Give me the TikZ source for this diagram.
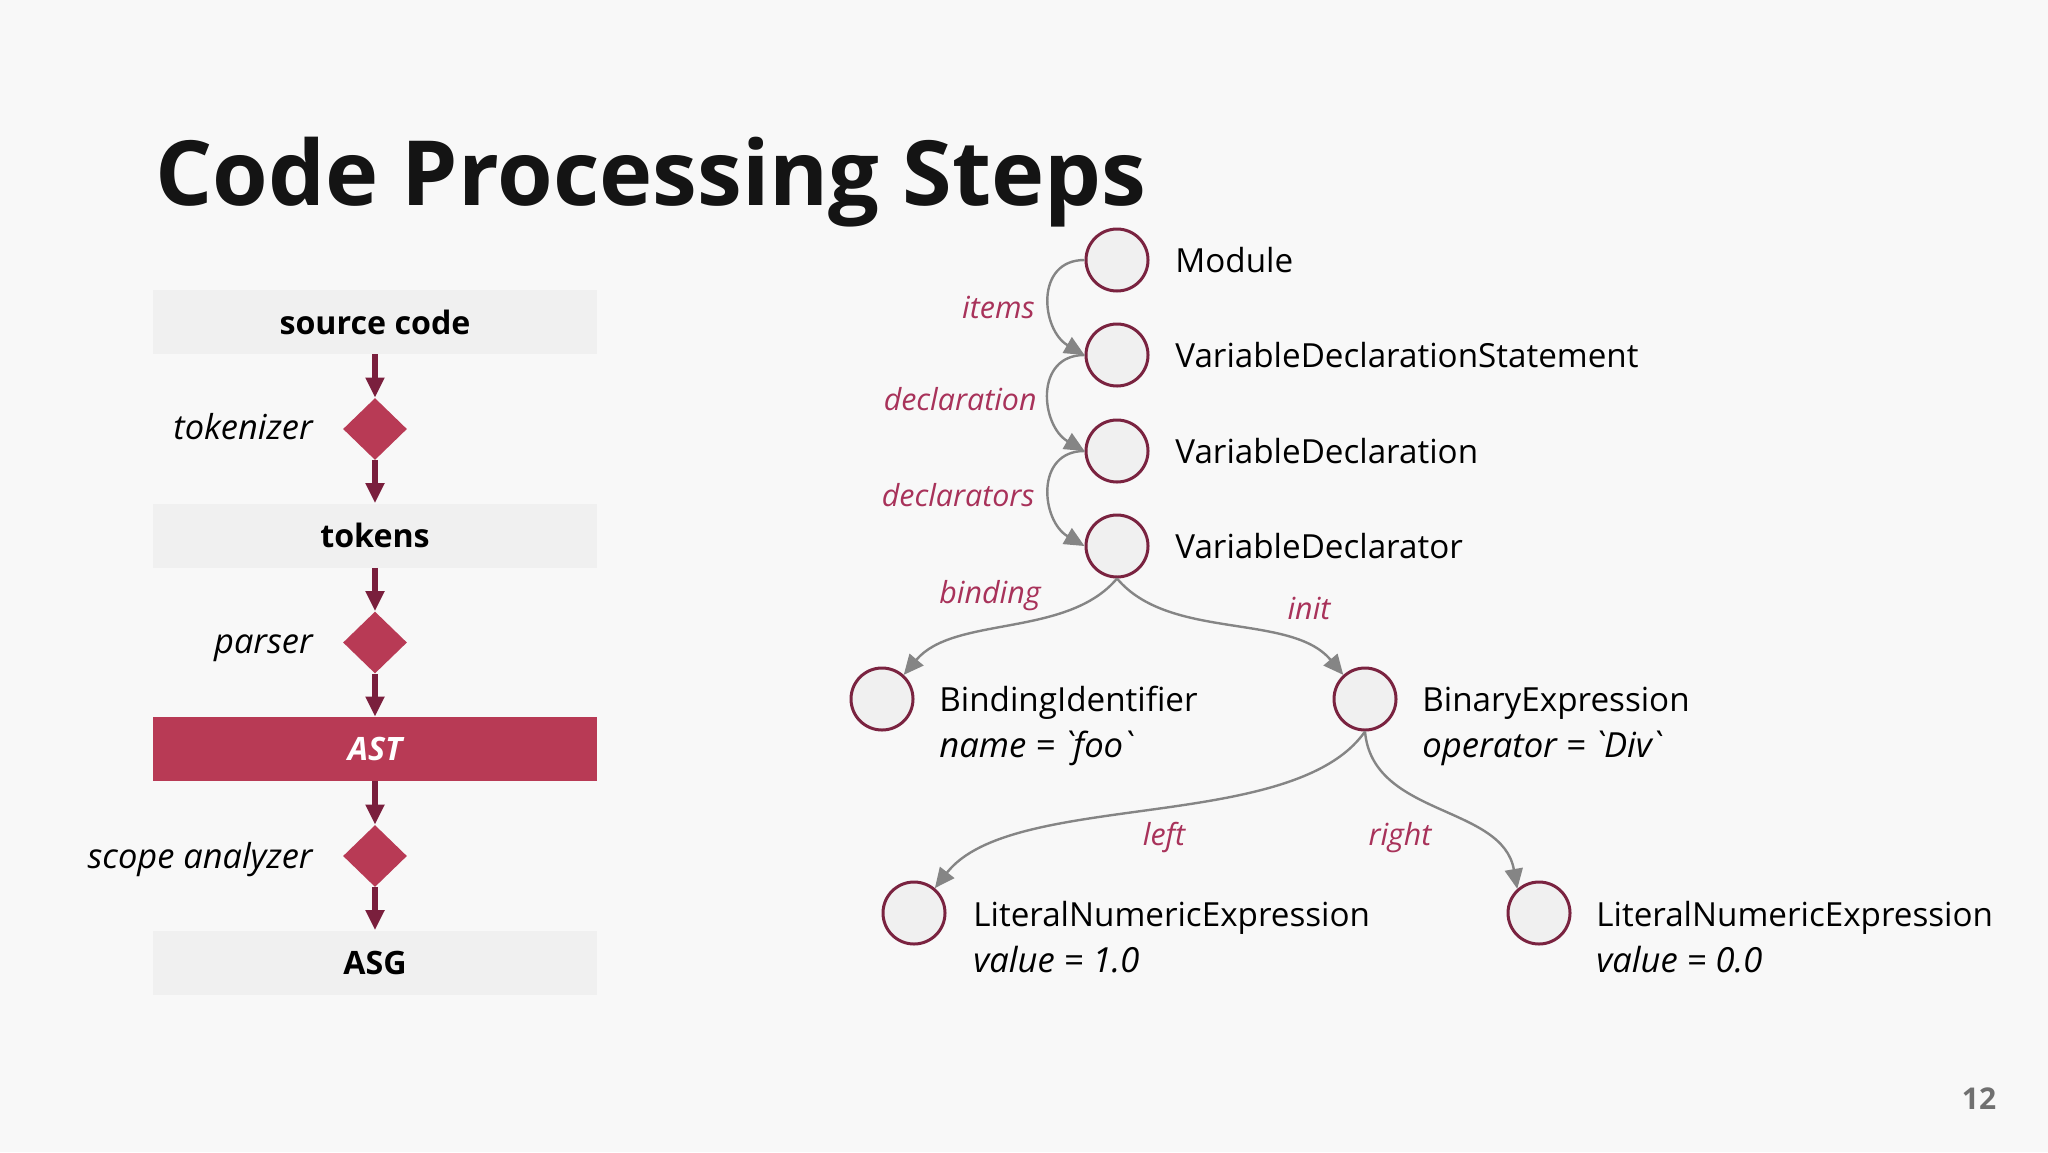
\documentclass[tikz,border=0pt]{standalone}
\usepackage{fontspec}
\setmainfont{Open Sans}[Ligatures=TeXOff]
\usetikzlibrary{arrows.meta,shapes.geometric}
\definecolor{bg}{HTML}{F8F8F8}
\definecolor{boxgray}{HTML}{F0F0F0}
\definecolor{crimson}{HTML}{B83A55}
\definecolor{darkmaroon}{HTML}{7A1F3D}
\definecolor{ringcol}{HTML}{7A2340}
\definecolor{edgegray}{HTML}{858585}
\definecolor{labcol}{HTML}{A8325A}
\definecolor{pagegray}{HTML}{707070}
\begin{document}
\begin{tikzpicture}[x=0.5pt,y=0.5pt,
  stagebox/.style={fill=boxgray, minimum width=222pt, minimum height=32pt, inner sep=0pt, text=black, font=\fontsize{16.1}{19}\selectfont\bfseries},
  procdiamond/.style={diamond, fill=crimson, minimum width=32pt, minimum height=31pt, inner sep=0pt, aspect=1},
  flowarrow/.style={darkmaroon, line width=3pt, -{Triangle[length=10pt,width=9pt]}},
  proclabel/.style={anchor=base east, font=\fontsize{17.2}{20}\selectfont\itshape, inner sep=0pt},
  astnode/.style={circle, draw=ringcol, line width=1.5pt, fill=boxgray, minimum size=31pt, inner sep=0pt},
  nodetext/.style={anchor=base west, font=\fontsize{16.6}{20}\selectfont, inner sep=0pt},
  attrtext/.style={anchor=base west, font=\fontsize{17.3}{20}\selectfont\itshape, inner sep=0pt},
  edgelabel/.style={font=\fontsize{15.2}{18}\selectfont\itshape, text=labcol, inner sep=0pt},
  treeedge/.style={edgegray, line width=1.2pt, -{Triangle[length=10pt,width=9pt]}},
]
\fill[bg] (0,0) rectangle (2048,-1152);
\useasboundingbox (0,0) rectangle (2048,-1152);

% title
\node[anchor=base west, font=\fontsize{45}{54}\selectfont\bfseries, inner sep=0pt, text=black!92] (title) at (155,-205) {Code Processing Steps};

% left pipeline
\node[stagebox] (src) at (375,-322) {source code};
\node[stagebox] (tok) at (375,-535.5) {tokens};
\node[stagebox, fill=crimson, text=white, font=\fontsize{16.1}{19}\selectfont\bfseries\itshape] (ast) at (375,-749) {AST};
\node[stagebox] (asg) at (375,-962.5) {ASG};

\node[procdiamond] (d1) at (375,-429) {};
\node[procdiamond] (d2) at (375,-642.5) {};
\node[procdiamond] (d3) at (375,-856) {};

\node[proclabel] (l1) at (313,-439) {tokenizer};
\node[proclabel] (l2) at (313,-653) {parser};
\node[proclabel] (l3) at (313,-868) {scope analyzer};

\draw[flowarrow] (src.south) -- (d1.north);
\draw[flowarrow] (d1.south) -- (tok.north);
\draw[flowarrow] (tok.south) -- (d2.north);
\draw[flowarrow] (d2.south) -- (ast.north);
\draw[flowarrow] (ast.south) -- (d3.north);
\draw[flowarrow] (d3.south) -- (asg.north);

% tree
\node[astnode] (mod) at (1117,-260) {};
\node[astnode] (vds) at (1117,-355) {};
\node[astnode] (vd) at (1117,-451) {};
\node[astnode] (vdr) at (1117,-546) {};
\node[astnode] (bind) at (882,-699) {};
\node[astnode] (bin) at (1365,-699) {};
\node[astnode] (lnl) at (914,-913) {};
\node[astnode] (lnr) at (1539,-913) {};

\node[nodetext] (tmod) at (1175,-272) {Module};
\node[nodetext] (tvds) at (1175,-367) {VariableDeclarationStatement};
\node[nodetext] (tvd) at (1175,-463) {VariableDeclaration};
\node[nodetext] (tvdr) at (1175,-558) {VariableDeclarator};
\node[nodetext] (tbind) at (939,-711) {BindingIdentifier};
\node[attrtext] (abind) at (939,-757) {name = `foo`};
\node[nodetext] (tbin) at (1422,-711) {BinaryExpression};
\node[attrtext] (abin) at (1422,-757) {operator = `Div`};
\node[nodetext] (tlnl) at (973,-926) {LiteralNumericExpression};
\node[attrtext] (alnl) at (973,-972) {value = 1.0};
\node[nodetext] (tlnr) at (1596,-926) {LiteralNumericExpression};
\node[attrtext] (alnr) at (1596,-972) {value = 0.0};

\draw[treeedge] (mod.west) to[out=180,in=150,looseness=1.35] (vds.west);
\draw[treeedge] (vds.west) to[out=180,in=150,looseness=1.35] (vd.west);
\draw[treeedge] (vd.west) to[out=180,in=150,looseness=1.35] (vdr.west);
\draw[treeedge] (vdr.south) to[out=-130,in=50,looseness=0.85] (bind.48);
\draw[treeedge] (vdr.south) to[out=-50,in=130,looseness=0.85] (bin.132);
\draw[treeedge] (bin.south) to[out=-125,in=52,looseness=0.7] (lnl.50);
\draw[treeedge] (bin.south) to[out=-85,in=100] (lnr.132);

\node[edgelabel, anchor=base east] (eitems) at (1035,-318) {items};
\node[edgelabel, anchor=base east] (edecl) at (1037,-410) {declaration};
\node[edgelabel, anchor=base east] (edecls) at (1035,-506) {declarators};
\node[edgelabel, anchor=base] (ebind) at (990,-603) {binding};
\node[edgelabel, anchor=base] (einit) at (1309,-619) {init};
\node[edgelabel, anchor=base] (eleft) at (1164,-845) {left};
\node[edgelabel, anchor=base] (eright) at (1400,-845) {right};

% page number
\node[font=\fontsize{15}{18}\selectfont\bfseries, text=pagegray, inner sep=0pt] (pnum) at (1979,-1099) {12};
\end{tikzpicture}
\end{document}
